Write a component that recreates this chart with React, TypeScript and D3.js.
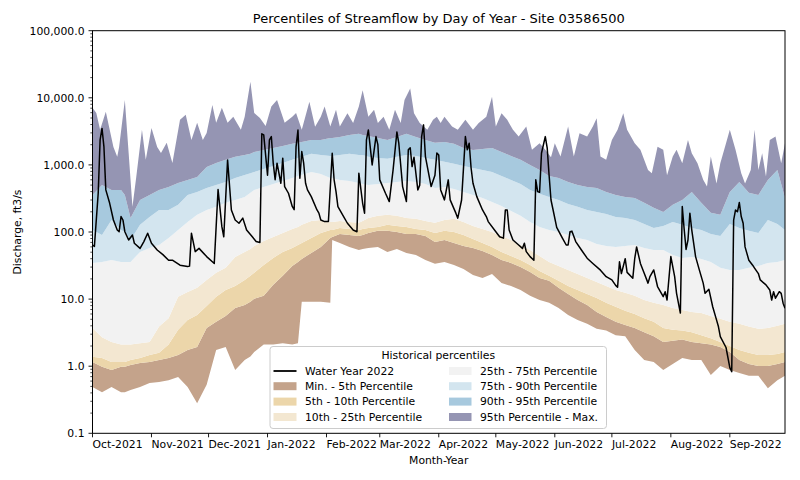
import React from "react";
import * as d3 from "d3";

// ---- data (day offset from 2021-10-01, discharge in ft3/s) ----
const days = [0,5,10,15,17,20,25,30,35,40,45,50,55,60,65,70,75,80,83,85,90,95,100,105,108,110,115,120,125,126,130,135,140,142,145,150,155,160,165,170,175,180,185,190,195,200,205,210,215,220,225,230,235,240,245,250,255,260,265,270,275,280,285,290,295,300,305,310,315,320,325,330,335,340,345,350,355,360,364];

const p95Q = [357,503,424,424,357,162,301,357,424,470,539,597,662,933,1070,1190,1320,1410,1460,1560,1670,1790,1920,2060,2130,2200,2360,2360,2520,2520,2610,2800,2900,2800,2700,2520,2360,2610,2900,2610,2360,2130,2200,2060,1790,1670,1730,1790,1560,1360,1190,1000,841,685,640,558,503,470,454,396,357,333,322,272,229,199,254,301,396,272,193,180,396,558,383,357,597,841,322];

const p90Q = [107,90.5,151,107,100,76.2,128,168,213,213,254,357,396,454,503,558,640,709,752,785,871,966,1070,1190,1270,1320,1460,1410,1360,1360,1410,1460,1410,1410,1320,1270,1230,1320,1410,1360,1270,1190,1110,1040,966,902,841,785,685,597,521,424,370,333,301,262,237,213,199,186,168,162,151,132,115,123,141,128,115,107,93.6,87.5,132,115,104,96.9,151,132,107];

const p75Q = [34.6,35.8,38.4,35.8,35.8,35.8,50.5,57.9,64.2,81.7,107,141,180,213,237,272,301,333,383,424,470,521,577,640,685,709,785,734,640,640,597,577,539,521,503,521,539,558,577,558,521,454,470,439,396,357,322,281,245,206,174,141,119,107,100,90.5,81.7,76.2,66.5,62.1,60,62.1,64.2,57.9,54.1,54.1,45.6,41.1,42.5,39.7,35.8,29.2,27.2,27.2,29.2,31.2,34.6,35.8,38.4];

const p25Q = [3.7,2.7,2.3,2.1,2.1,2.1,2.2,2.3,3.9,5.2,10.8,12.8,14.7,19.3,24.6,29.2,42.5,50.5,56,62.1,73.6,84.5,96.9,111,119,128,146,151,141,141,146,141,137,146,162,174,180,174,162,157,146,137,151,157,141,123,111,100,87.5,76.2,64.2,54.1,44,35.8,31.2,27.2,23.7,20.7,18,15.7,13.7,12.4,11.2,9.7,8.8,8.2,7.4,6.9,6.4,6.2,5.6,5.1,4.6,4.3,3.9,3.6,3.7,4,4.3];

const p10Q = [1.38,1.33,1.16,1.16,1.16,1.24,1.33,1.47,1.58,2.1,3.5,4.9,5.8,7.9,10.8,13.7,15.7,19.3,22.2,24.6,32.3,41.1,50.5,57.9,64.2,68.8,81.7,96.9,107,107,115,111,107,111,115,119,128,123,119,111,107,96.9,104,100,90.5,78.9,68.8,60,50.5,44,38.4,32.3,26.3,22.2,18.7,15.7,13.7,11.9,10.4,8.8,7.7,6.7,6,5.2,4.6,3.7,3.5,3.4,3.2,2.9,2.6,2.3,2,1.75,1.58,1.47,1.47,1.52,1.63];

const p5Q = [1.16,0.98,0.88,0.98,0.98,1.04,1.12,1.16,1.24,1.33,1.47,1.75,1.94,3.7,4.6,5.6,7.4,8.2,9.1,10.1,11.2,16.3,22.2,31.2,35.8,39.7,48.8,60,81.7,84.5,93.6,90.5,87.5,90.5,96.9,104,104,100,93.6,93.6,87.5,71.1,76.2,68.8,62.1,57.9,52.3,45.6,38.4,34.6,30.2,25.4,20.7,18.7,14.7,11.9,9.7,8.2,6.4,5.4,4.6,4.1,3.7,3.2,2.8,2.3,2.4,2.5,2.3,2.2,2.1,1.94,1.63,1.24,1.08,1.01,1.01,1.08,1.16];

const minQ = [0.49,0.41,0.49,0.41,0.41,0.44,0.49,0.56,0.58,0.62,0.69,0.49,0.28,0.53,1.75,1.94,0.88,1.24,1.4,1.63,2.1,2.1,2.2,2.1,2.2,9.1,9.1,9.1,8.8,76.2,68.8,60,54.1,56,57.9,60,50.5,56,48.8,45.6,38.4,33.5,35.8,32.3,28.2,22.9,20.7,23.7,17.4,15.7,13.7,11.2,9.7,8.8,7.4,5.8,4.9,4.3,3.6,3.4,2.9,2.8,1.75,1.24,1.16,0.88,1.08,1.33,1.24,1.24,0.74,1.01,0.88,0.79,0.72,0.72,0.47,0.62,0.72];

// historical maximum, read at its own (finer) days
const maxFlow: [number, number][] = [
  [0,7080],[2,5960],[4,3330],[7,6200],[11,1850],[13,1320],[14,1850],[17,9310],[19,1510],[21,237],[23,662],[26,3330],[28,1190],[31,3560],[34,1850],[36,1510],[39,2130],[42,1070],[46,4690],[49,5570],[52,2360],[55,4230],[58,2360],[60,3000],[63,7800],[65,4230],[68,7080],[71,4230],[74,5200],[78,3330],[80,5200],[83,17400],[85,5960],[88,5000],[91,3800],[94,7400],[97,9300],[101,4230],[105,5200],[107,5960],[110,3330],[114,8700],[117,3690],[120,5200],[122,7390],[125,3720],[128,6610],[130,3720],[134,5870],[137,4220],[140,7390],[142,13000],[145,5200],[148,6610],[150,4220],[153,5200],[156,3330],[159,6610],[162,4220],[164,9310],[167,13800],[169,5870],[172,4220],[176,3330],[179,4690],[181,5200],[183,4220],[185,5200],[189,3720],[192,3330],[196,4690],[200,3330],[203,4220],[207,5200],[210,10400],[212,3720],[215,5870],[218,4690],[221,3330],[224,2640],[228,3720],[231,1680],[235,2110],[238,1680],[241,1300],[243,2110],[246,1330],[250,3720],[253,1330],[256,2970],[260,2640],[263,3720],[265,4970],[267,1330],[270,1190],[273,2360],[276,3330],[279,5870],[281,3330],[285,2110],[288,1680],[292,840],[294,750],[297,1870],[300,1680],[302,700],[305,1330],[307,1680],[310,1060],[313,2360],[315,1490],[318,1060],[321,600],[323,475],[325,1330],[328,530],[330,1060],[333,2110],[335,3330],[338,1680],[341,750],[343,530],[346,840],[348,3330],[350,840],[352,1490],[354,670],[356,2360],[359,2640],[362,1060],[364,2110]
];

const waterYear2022: [number, number][] = [
  [0,64],[1,61],[3,378],[4,2360],[5,3500],[6,1875],[7,424],[9,270],[11,151],[13,107],[14,101],[15,170],[16,151],[17,101],[19,76],[21,90],[22,68],[25,57],[27,72],[29,96],[31,68],[34,54],[37,46],[40,38],[42,38],[46,32],[50,30.5],[51,31],[52,96],[54,51],[56,57],[60,43],[63,36],[64,34],[66,430],[68,120],[69,85],[71,1186],[73,213],[75,151],[77,135],[79,161],[81,107],[84,85],[86,72],[88,70],[89,2900],[90,2800],[92,700],[93,2360],[94,2640],[95,1060],[96,600],[97,1060],[99,533],[100,1260],[101,475],[103,378],[105,240],[106,215],[107,1875],[108,3300],[109,634],[110,1580],[111,1060],[112,533],[113,424],[115,337],[118,213],[119,191],[120,151],[122,143],[124,143],[126,1490],[127,600],[128,400],[129,239],[132,170],[134,135],[137,107],[139,101],[140,752],[142,268],[143,191],[144,2360],[145,3325],[147,1000],[149,2640],[150,2000],[151,598],[154,378],[156,284],[158,842],[160,3100],[161,2105],[163,475],[165,284],[166,1675],[167,1800],[168,944],[169,1300],[171,424],[172,500],[173,2640],[174,3950],[175,1330],[177,670],[178,475],[180,700],[181,1500],[182,1400],[183,424],[185,301],[187,598],[188,301],[191,191],[192,161],[194,300],[196,2640],[197,1675],[198,2105],[199,900],[200,533],[202,337],[205,213],[207,170],[208,143],[212,101],[214,85],[216,81],[217,213],[218,213],[219,107],[221,76],[224,64],[226,57],[227,68],[228,51],[230,43],[232,38],[233,600],[234,400],[235,390],[236,1493],[238,2640],[239,1800],[240,700],[241,300],[242,220],[244,117],[247,81],[249,64],[250,64],[251,101],[252,103],[254,72],[257,54],[260,40.7],[263,34],[267,27],[270,21.6],[273,19.3],[275,16],[276,15],[277,36],[278,24],[280,40],[281,25],[284,20.5],[285,40],[286,60],[288,34],[290,24.3],[292,17.3],[293,21.6],[295,27.2],[297,15.4],[300,10.9],[301,12.9],[302,9.7],[304,43],[306,21.6],[307,12.2],[309,6.2],[310,239],[311,110],[312,55],[313,76],[314,191],[315,107],[317,43],[319,27],[321,17.3],[322,12.2],[324,14],[326,7.7],[328,4.9],[329,3.9],[330,2.76],[333,1.9],[335,0.95],[336,0.83],[337,150],[338,213],[339,200],[340,275],[341,170],[342,135],[343,60],[345,38],[347,32],[348,29],[350,24],[351,19.3],[354,16.3],[356,13.7],[357,9.7],[358,12.9],[359,10.3],[361,12.9],[362,12.2],[363,8.7],[364,7.3]
];

const yTickValues = [0.1, 1, 10, 100, 1000, 10000, 100000];

const bandLabels = [
  "Min. - 5th Percentile",
  "5th - 10th Percentile",
  "10th - 25th Percentile",
  "25th - 75th Percentile",
  "75th - 90th Percentile",
  "90th - 95th Percentile",
  "95th Percentile - Max.",
];
const bandColors = ["#c4a38b", "#ecd6aa", "#f3e7d1", "#f2f2f2", "#d3e5ef", "#a7c9de", "#9595b3"];

const FONT = "DejaVu Sans, Liberation Sans, sans-serif";

export default function App() {
  const W = 800, H = 480;
  const L = 92.5, R = 785, T = 30.7, B = 433.3;
  const start = new Date(2021, 9, 1);
  const toDate = (d: number) => d3.timeDay.offset(start, d);

  const x = d3.scaleTime().domain([start, toDate(364)]).range([L, R]);
  const y = d3.scaleLog().domain([0.1, 100000]).range([B, T]);

  const series = [minQ, p5Q, p10Q, p25Q, p75Q, p90Q, p95Q];
  const n = Math.min(days.length, ...series.map((s) => s.length));
  const rows = d3.range(n).map((i) => ({ d: days[i], v: series.map((s) => s[i]) }));

  const bands = bandColors.slice(0, 6).map((c, k) => {
    const area = d3
      .area<{ d: number; v: number[] }>()
      .x((r) => x(toDate(r.d)))
      .y0((r) => y(r.v[k]))
      .y1((r) => y(r.v[k + 1]));
    return { color: c, path: area(rows) || "" };
  });

  // top band: between 95th percentile and the maximum (different sampling)
  const topPts: [number, number][] = [
    ...maxFlow.map((p) => [x(toDate(p[0])), y(p[1])] as [number, number]),
    ...rows
      .slice()
      .reverse()
      .map((r) => [x(toDate(r.d)), y(r.v[6])] as [number, number]),
  ];
  const topPath = (d3.line()(topPts) || "") + "Z";

  const line = d3
    .line<[number, number]>()
    .x((p) => x(toDate(p[0])))
    .y((p) => y(p[1]));
  const wyPath = line(waterYear2022) || "";

  const monthTicks = d3.timeMonth.range(start, toDate(365));
  const fmtMonth = d3.timeFormat("%b-%Y");
  const fmtY = d3.format(",.1f");

  const minorTicks: number[] = [];
  for (let e = -1; e < 5; e++) {
    for (let k = 2; k <= 9; k++) minorTicks.push(k * Math.pow(10, e));
  }

  const fs = 10.8;
  const legendX = 270, legendY = 346.5, legendW = 336.5, legendH = 82;
  const rowY = [371, 386.2, 401.6, 417];
  const col1 = [
    { type: "line", label: "Water Year 2022", color: "#000" },
    { type: "patch", label: bandLabels[0], color: bandColors[0] },
    { type: "patch", label: bandLabels[1], color: bandColors[1] },
    { type: "patch", label: bandLabels[2], color: bandColors[2] },
  ];
  const col2 = [3, 4, 5, 6].map((k) => ({ label: bandLabels[k], color: bandColors[k] }));

  return (
    <svg
      width={W}
      height={H}
      style={{ position: "absolute", left: 0, top: 0, background: "#fff" }}
      fontFamily={FONT}
    >
      <rect x={0} y={0} width={W} height={H} fill="#fff" />
      <defs>
        <clipPath id="plotClip">
          <rect x={L} y={T} width={R - L} height={B - T} />
        </clipPath>
      </defs>
      <g clipPath="url(#plotClip)">
        {bands.map((b, i) => (
          <path key={i} d={b.path} fill={b.color} stroke="none" />
        ))}
        <path d={topPath} fill={bandColors[6]} stroke="none" />
        <path d={wyPath} fill="none" stroke="#000" strokeWidth={1.5} strokeLinejoin="round" />
      </g>

      {/* spines */}
      <rect x={L} y={T} width={R - L} height={B - T} fill="none" stroke="#000" strokeWidth={1} />

      {/* y ticks */}
      {minorTicks.map((v, i) => (
        <line key={"m" + i} x1={L - 2.2} x2={L} y1={y(v)} y2={y(v)} stroke="#000" strokeWidth={0.7} />
      ))}
      {yTickValues.map((v, i) => (
        <g key={"y" + i}>
          <line x1={L - 4} x2={L} y1={y(v)} y2={y(v)} stroke="#000" strokeWidth={0.9} />
          <text x={L - 8} y={y(v)} dy="0.36em" textAnchor="end" fontSize={fs} fill="#000">
            {fmtY(v)}
          </text>
        </g>
      ))}

      {/* x ticks */}
      {monthTicks.map((m, i) => (
        <g key={"x" + i}>
          <line x1={x(m)} x2={x(m)} y1={B} y2={B + 4} stroke="#000" strokeWidth={0.9} />
          <text x={x(m)} y={448} textAnchor="start" fontSize={fs} fill="#000">
            {fmtMonth(m)}
          </text>
        </g>
      ))}

      {/* labels */}
      <text x={(L + R) / 2} y={23} textAnchor="middle" fontSize={13} fill="#000">
        Percentiles of Streamflow by Day of Year - Site 03586500
      </text>
      <text x={(L + R) / 2} y={464} textAnchor="middle" fontSize={fs} fill="#000">
        Month-Year
      </text>
      <text transform={`translate(20.5, ${(T + B) / 2}) rotate(-90)`} textAnchor="middle" fontSize={fs} fill="#000">
        Discharge, ft3/s
      </text>

      {/* legend */}
      <g>
        <rect x={legendX} y={legendY} width={legendW} height={legendH} rx={3} fill="#fff" fillOpacity={0.8} stroke="#cccccc" strokeWidth={1} />
        <text x={legendX + legendW / 2} y={359} textAnchor="middle" fontSize={fs} fill="#000">
          Historical percentiles
        </text>
        {col1.map((it, i) => (
          <g key={"l1" + i}>
            {it.type === "line" ? (
              <line x1={273.5} x2={296.5} y1={rowY[i]} y2={rowY[i]} stroke="#000" strokeWidth={1.8} />
            ) : (
              <rect x={273.5} y={rowY[i] - 4} width={23} height={8} fill={it.color} />
            )}
            <text x={305} y={rowY[i]} dy="0.36em" fontSize={fs} fill="#000">
              {it.label}
            </text>
          </g>
        ))}
        {col2.map((it, i) => (
          <g key={"l2" + i}>
            <rect x={449} y={rowY[i] - 4} width={22.5} height={8} fill={it.color} />
            <text x={480} y={rowY[i]} dy="0.36em" fontSize={fs} fill="#000">
              {it.label}
            </text>
          </g>
        ))}
      </g>
    </svg>
  );
}
